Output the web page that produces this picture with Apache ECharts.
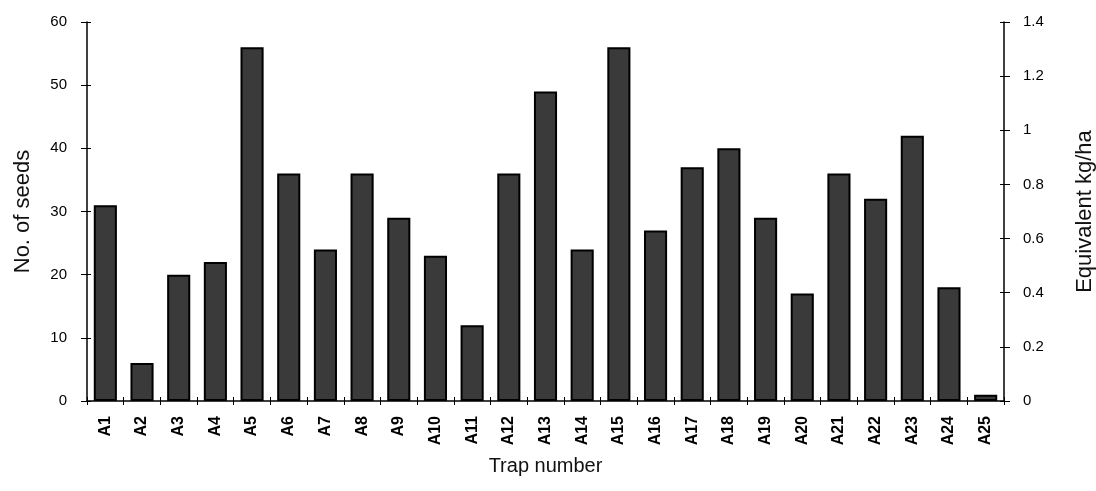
<!DOCTYPE html>
<html>
<head>
<meta charset="utf-8">
<script src="https://cdn.jsdelivr.net/npm/echarts@6/dist/echarts.min.js"></script>
<style>html,body{margin:0;padding:0;background:#fff}#c{width:1096px;height:491px}</style>
</head>
<body>
<div id="c"></div>
<script>
const categories = ['A1','A2','A3','A4','A5','A6','A7','A8','A9','A10','A11','A12','A13','A14','A15','A16','A17','A18','A19','A20','A21','A22','A23','A24','A25'];
const seeds = [31, 6, 20, 22, 56, 36, 24, 36, 29, 23, 12, 36, 49, 24, 56, 27, 37, 40, 29, 17, 36, 32, 42, 18, 1];
const leftTicks = {min: 0, max: 60, interval: 10};
const rightTicks = {min: 0, max: 1.4, interval: 0.2};

const sans = "'Liberation Sans', Arial, sans-serif";
const chart = echarts.init(document.getElementById('c'));
const tickLabel = {fontFamily: sans, fontSize: 15, color: '#000', margin: 20};
chart.setOption({
  animation: false,
  backgroundColor: '#fff',
  grid: {left: 87, right: 92, top: 22, bottom: 90, containLabel: false, outerBoundsMode: 'none'},
  xAxis: [{
    type: 'category',
    data: categories,
    name: 'Trap number',
    nameLocation: 'middle',
    nameGap: 55,
    nameTextStyle: {fontFamily: sans, fontSize: 20, color: '#111'},
    axisLine: {lineStyle: {color: '#000', width: 1.5}},
    axisTick: {show: true, length: 4, lineStyle: {color: '#000'}},
    axisLabel: {rotate: 90, fontFamily: sans, fontWeight: 'bold', fontSize: 16, color: '#000', margin: 15}
  }, {
    type: 'category',
    data: categories,
    position: 'bottom',
    axisLine: {show: false},
    axisTick: {show: true, inside: true, length: 4, lineStyle: {color: '#000'}},
    axisLabel: {show: false}
  }],
  yAxis: [
    {
      type: 'value', min: leftTicks.min, max: leftTicks.max, interval: leftTicks.interval,
      name: 'No. of seeds', nameLocation: 'middle', nameGap: 53,
      nameTextStyle: {fontFamily: sans, fontSize: 22, color: '#111'},
      axisLine: {show: true, lineStyle: {color: '#000', width: 1.5}},
      axisTick: {show: true, length: 6, lineStyle: {color: '#000'}},
      axisLabel: tickLabel,
      splitLine: {show: false}
    },
    {
      type: 'value', min: rightTicks.min, max: rightTicks.max, interval: rightTicks.interval,
      position: 'right',
      name: 'Equivalent kg/ha', nameLocation: 'middle', nameGap: 70,
      nameRotate: 90,
      nameTextStyle: {fontFamily: sans, fontSize: 22, color: '#111'},
      axisLine: {show: true, lineStyle: {color: '#000', width: 1.5}},
      axisTick: {show: true, length: 6, lineStyle: {color: '#000'}},
      axisLabel: Object.assign({}, tickLabel, {margin: 19, formatter: v => String(Math.round(v * 10) / 10)}),
      splitLine: {show: false}
    },
    {
      type: 'value', min: leftTicks.min, max: leftTicks.max, interval: leftTicks.interval,
      position: 'left',
      axisLine: {show: false},
      axisTick: {show: true, inside: true, length: 4, lineStyle: {color: '#000'}},
      axisLabel: {show: false},
      splitLine: {show: false}
    },
    {
      type: 'value', min: rightTicks.min, max: rightTicks.max, interval: rightTicks.interval,
      position: 'right',
      axisLine: {show: false},
      axisTick: {show: true, inside: true, length: 4, lineStyle: {color: '#000'}},
      axisLabel: {show: false},
      splitLine: {show: false}
    }
  ],
  series: [{
    type: 'bar',
    data: seeds,
    xAxisIndex: 0,
    yAxisIndex: 0,
    barCategoryGap: '37%',
    itemStyle: {color: '#3a3a3a', borderColor: '#000', borderWidth: 2}
  }]
});
</script>
</body>
</html>
